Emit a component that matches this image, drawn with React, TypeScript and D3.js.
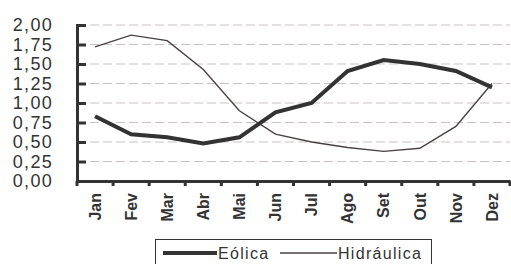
import * as d3 from 'd3';
import { useEffect, useRef } from 'react';

const months = ['Jan', 'Fev', 'Mar', 'Abr', 'Mai', 'Jun', 'Jul', 'Ago', 'Set', 'Out', 'Nov', 'Dez'];
const eolica = [0.83, 0.6, 0.56, 0.48, 0.56, 0.88, 1.0, 1.41, 1.55, 1.5, 1.41, 1.2];
const hidraulica = [1.72, 1.87, 1.8, 1.43, 0.9, 0.6, 0.5, 0.43, 0.38, 0.42, 0.7, 1.25];
const yTicks = [0, 0.25, 0.5, 0.75, 1, 1.25, 1.5, 1.75, 2];

const WIDTH = 511;
const HEIGHT = 264;
const plot = { left: 77, right: 510, top: 25, bottom: 181 };
const FONT = 'Liberation Sans, Arial, sans-serif';
const DARK = '#333333';

export default function App() {
    const ref = useRef<SVGSVGElement>(null);

    useEffect(() => {
        const svg = d3.select(ref.current);
        svg.selectAll('*').remove();

        const x = d3.scaleBand<string>().domain(months).range([plot.left, plot.right]);
        const y = d3.scaleLinear().domain([0, 2]).range([plot.bottom, plot.top]);
        const fmt = (v: number) => d3.format('.2f')(v).replace('.', ',');

        // grid lines
        svg.append('g')
            .selectAll('line')
            .data(yTicks.filter(t => t > 0))
            .join('line')
            .attr('x1', plot.left)
            .attr('x2', plot.right)
            .attr('y1', d => y(d))
            .attr('y2', d => y(d))
            .attr('stroke', '#cbc3c3')
            .attr('stroke-width', 1)
            .attr('stroke-dasharray', '9,4');

        // y axis
        const yAxis = svg.append('g').attr('transform', `translate(${plot.left},0)`)
            .call(d3.axisRight(y).tickValues(yTicks).tickSize(9).tickFormat(() => ''));
        yAxis.select('.domain').attr('stroke', DARK).attr('stroke-width', 3);
        yAxis.selectAll('.tick line').attr('stroke', DARK).attr('stroke-width', 3);

        svg.append('g')
            .selectAll('text')
            .data(yTicks)
            .join('text')
            .attr('x', 53)
            .attr('y', d => y(d))
            .attr('dy', '0.36em')
            .attr('text-anchor', 'end')
            .attr('font-family', FONT)
            .attr('font-size', 18)
            .attr('letter-spacing', 1.3)
            .attr('fill', DARK)
            .text(d => fmt(d));

        // x axis
        const xAxis = svg.append('g').attr('transform', `translate(0,${plot.bottom})`)
            .call(d3.axisBottom(x).tickSize(0).tickFormat(() => ''));
        xAxis.select('.domain').attr('stroke', DARK).attr('stroke-width', 3);
        xAxis.selectAll('.tick').remove();

        svg.append('g')
            .selectAll('line')
            .data([...months.map(m => x(m)!), plot.right])
            .join('line')
            .attr('x1', d => d)
            .attr('x2', d => d)
            .attr('y1', plot.bottom)
            .attr('y2', plot.bottom + 5)
            .attr('stroke', DARK)
            .attr('stroke-width', 3);

        svg.append('g')
            .selectAll('text')
            .data(months)
            .join('text')
            .attr('transform', d => `translate(${x(d)! + x.bandwidth() / 2},193) rotate(-90)`)
            .attr('dy', '0.36em')
            .attr('text-anchor', 'end')
            .attr('font-family', FONT)
            .attr('font-size', 16)
            .attr('font-weight', 'bold')
            .attr('fill', DARK)
            .text(d => d);

        const line = d3.line<number>()
            .x((_, i) => x(months[i])! + x.bandwidth() / 2)
            .y(d => y(d));

        svg.append('path')
            .attr('d', line(hidraulica))
            .attr('fill', 'none')
            .attr('stroke', '#4a4242')
            .attr('stroke-width', 1.4);

        svg.append('path')
            .attr('d', line(eolica))
            .attr('fill', 'none')
            .attr('stroke', DARK)
            .attr('stroke-width', 4);

        // legend
        const legend = svg.append('g');
        legend.append('rect')
            .attr('x', 155.5)
            .attr('y', 239.5)
            .attr('width', 276)
            .attr('height', 30)
            .attr('fill', 'white')
            .attr('stroke', DARK)
            .attr('stroke-width', 1);
        const items = [
            { name: 'Eólica', x1: 163, x2: 217, w: 4, c: DARK },
            { name: 'Hidráulica', x1: 280, x2: 337, w: 1.4, c: '#4a4242' },
        ];
        items.forEach(it => {
            legend.append('line')
                .attr('x1', it.x1).attr('x2', it.x2)
                .attr('y1', 253).attr('y2', 253)
                .attr('stroke', it.c).attr('stroke-width', it.w);
            legend.append('text')
                .attr('x', it.x2 + 1)
                .attr('y', 253)
                .attr('dy', '0.36em')
                .attr('font-family', FONT)
                .attr('font-size', 16)
                .attr('letter-spacing', 1.3)
                .attr('fill', DARK)
                .text(it.name);
        });
    }, []);

    return (
        <svg
            ref={ref}
            width={WIDTH}
            height={HEIGHT}
            style={{ position: 'absolute', left: 0, top: 0, background: 'white' }}
        />
    );
}
